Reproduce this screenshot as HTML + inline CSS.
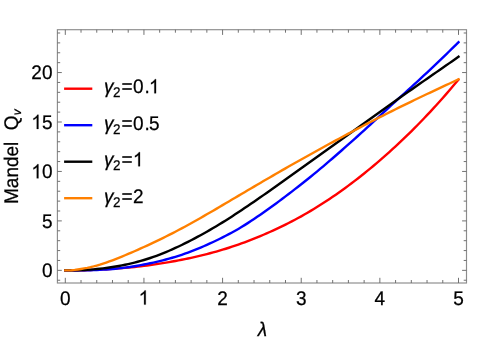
<!DOCTYPE html>
<html><head><meta charset="utf-8"><style>
html,body{margin:0;padding:0;background:#fff}
svg{display:block;will-change:transform}
text{text-rendering:geometricPrecision;font-family:"Liberation Sans",sans-serif;font-size:19.7px;fill:#000;stroke:#000;stroke-width:0.25px}
.one{fill:none;stroke:none}
</style></head><body>
<svg width="498" height="341" viewBox="0 0 498 341">
<g opacity="0.999">
<rect width="498" height="341" fill="#fff"/>
<g fill="none" stroke-width="2.4" stroke-linejoin="round" stroke-linecap="square"><path d="M65.30,270.35 L68.45,270.35 L71.59,270.35 L74.74,270.35 L77.88,270.35 L81.03,270.30 L84.17,270.22 L87.32,270.12 L90.46,270.01 L93.61,269.88 L96.76,269.73 L99.90,269.57 L103.05,269.40 L106.19,269.22 L109.34,269.03 L112.48,268.82 L115.63,268.60 L118.78,268.36 L121.92,268.11 L125.07,267.84 L128.21,267.56 L131.36,267.26 L134.50,266.94 L137.65,266.60 L140.79,266.24 L143.94,265.86 L147.09,265.46 L150.23,265.05 L153.38,264.61 L156.52,264.15 L159.67,263.67 L162.81,263.17 L165.96,262.65 L169.10,262.11 L172.25,261.55 L175.40,260.97 L178.54,260.38 L181.69,259.76 L184.83,259.13 L187.98,258.48 L191.12,257.80 L194.27,257.11 L197.42,256.39 L200.56,255.65 L203.71,254.89 L206.85,254.10 L210.00,253.28 L213.14,252.43 L216.29,251.56 L219.43,250.65 L222.58,249.72 L225.73,248.75 L228.87,247.75 L232.02,246.72 L235.16,245.65 L238.31,244.56 L241.45,243.43 L244.60,242.28 L247.74,241.09 L250.89,239.88 L254.04,238.64 L257.18,237.37 L260.33,236.07 L263.47,234.74 L266.62,233.38 L269.76,232.00 L272.91,230.58 L276.06,229.14 L279.20,227.66 L282.35,226.15 L285.49,224.60 L288.64,223.02 L291.78,221.41 L294.93,219.75 L298.07,218.06 L301.22,216.33 L304.37,214.56 L307.51,212.74 L310.66,210.89 L313.80,209.00 L316.95,207.07 L320.09,205.10 L323.24,203.09 L326.38,201.04 L329.53,198.96 L332.68,196.83 L335.82,194.67 L338.97,192.46 L342.11,190.22 L345.26,187.94 L348.40,185.62 L351.55,183.27 L354.70,180.87 L357.84,178.44 L360.99,175.97 L364.13,173.47 L367.28,170.92 L370.42,168.34 L373.57,165.72 L376.71,163.07 L379.86,160.37 L383.01,157.64 L386.15,154.87 L389.30,152.07 L392.44,149.22 L395.59,146.34 L398.73,143.41 L401.88,140.45 L405.02,137.44 L408.17,134.39 L411.32,131.30 L414.46,128.16 L417.61,124.99 L420.75,121.77 L423.90,118.50 L427.04,115.19 L430.19,111.83 L433.34,108.43 L436.48,104.99 L439.63,101.50 L442.77,97.96 L445.92,94.37 L449.06,90.74 L452.21,87.07 L455.35,83.34 L458.50,79.57" stroke="#ff0000"/><path d="M65.30,270.35 L68.45,270.35 L71.59,270.35 L74.74,270.35 L77.88,270.35 L81.03,270.35 L84.17,270.35 L87.32,270.30 L90.46,270.20 L93.61,270.09 L96.76,269.95 L99.90,269.80 L103.05,269.64 L106.19,269.45 L109.34,269.24 L112.48,268.99 L115.63,268.72 L118.78,268.40 L121.92,268.05 L125.07,267.66 L128.21,267.22 L131.36,266.75 L134.50,266.24 L137.65,265.70 L140.79,265.13 L143.94,264.54 L147.09,263.91 L150.23,263.26 L153.38,262.57 L156.52,261.86 L159.67,261.11 L162.81,260.33 L165.96,259.50 L169.10,258.64 L172.25,257.74 L175.40,256.80 L178.54,255.81 L181.69,254.77 L184.83,253.69 L187.98,252.56 L191.12,251.39 L194.27,250.17 L197.42,248.91 L200.56,247.60 L203.71,246.26 L206.85,244.87 L210.00,243.45 L213.14,241.99 L216.29,240.49 L219.43,238.96 L222.58,237.39 L225.73,235.79 L228.87,234.15 L232.02,232.47 L235.16,230.72 L238.31,228.92 L241.45,227.05 L244.60,225.11 L247.74,223.12 L250.89,221.07 L254.04,218.98 L257.18,216.85 L260.33,214.68 L263.47,212.48 L266.62,210.25 L269.76,208.00 L272.91,205.73 L276.06,203.43 L279.20,201.11 L282.35,198.76 L285.49,196.39 L288.64,194.00 L291.78,191.59 L294.93,189.16 L298.07,186.71 L301.22,184.23 L304.37,181.74 L307.51,179.23 L310.66,176.70 L313.80,174.14 L316.95,171.56 L320.09,168.94 L323.24,166.30 L326.38,163.63 L329.53,160.94 L332.68,158.23 L335.82,155.50 L338.97,152.75 L342.11,150.00 L345.26,147.22 L348.40,144.44 L351.55,141.64 L354.70,138.83 L357.84,136.00 L360.99,133.17 L364.13,130.32 L367.28,127.45 L370.42,124.57 L373.57,121.68 L376.71,118.78 L379.86,115.86 L383.01,112.93 L386.15,110.01 L389.30,107.10 L392.44,104.21 L395.59,101.33 L398.73,98.47 L401.88,95.62 L405.02,92.77 L408.17,89.91 L411.32,87.06 L414.46,84.19 L417.61,81.31 L420.75,78.41 L423.90,75.49 L427.04,72.55 L430.19,69.59 L433.34,66.61 L436.48,63.62 L439.63,60.61 L442.77,57.59 L445.92,54.55 L449.06,51.50 L452.21,48.44 L455.35,45.37 L458.50,42.29" stroke="#0000ff"/><path d="M65.30,270.35 L68.45,270.35 L71.59,270.35 L74.74,270.34 L77.88,270.26 L81.03,270.15 L84.17,270.00 L87.32,269.82 L90.46,269.60 L93.61,269.35 L96.76,269.06 L99.90,268.73 L103.05,268.37 L106.19,267.97 L109.34,267.53 L112.48,267.05 L115.63,266.54 L118.78,265.99 L121.92,265.39 L125.07,264.76 L128.21,264.08 L131.36,263.35 L134.50,262.58 L137.65,261.77 L140.79,260.90 L143.94,259.98 L147.09,259.01 L150.23,257.99 L153.38,256.92 L156.52,255.79 L159.67,254.61 L162.81,253.37 L165.96,252.09 L169.10,250.75 L172.25,249.37 L175.40,247.94 L178.54,246.48 L181.69,244.97 L184.83,243.43 L187.98,241.86 L191.12,240.25 L194.27,238.60 L197.42,236.93 L200.56,235.22 L203.71,233.48 L206.85,231.70 L210.00,229.90 L213.14,228.06 L216.29,226.19 L219.43,224.29 L222.58,222.36 L225.73,220.40 L228.87,218.41 L232.02,216.39 L235.16,214.35 L238.31,212.28 L241.45,210.20 L244.60,208.09 L247.74,205.96 L250.89,203.82 L254.04,201.66 L257.18,199.49 L260.33,197.31 L263.47,195.12 L266.62,192.92 L269.76,190.71 L272.91,188.50 L276.06,186.27 L279.20,184.05 L282.35,181.81 L285.49,179.57 L288.64,177.33 L291.78,175.09 L294.93,172.84 L298.07,170.59 L301.22,168.33 L304.37,166.08 L307.51,163.82 L310.66,161.57 L313.80,159.31 L316.95,157.05 L320.09,154.79 L323.24,152.54 L326.38,150.28 L329.53,148.02 L332.68,145.76 L335.82,143.50 L338.97,141.24 L342.11,138.98 L345.26,136.72 L348.40,134.46 L351.55,132.20 L354.70,129.94 L357.84,127.68 L360.99,125.42 L364.13,123.17 L367.28,120.91 L370.42,118.66 L373.57,116.41 L376.71,114.17 L379.86,111.92 L383.01,109.68 L386.15,107.44 L389.30,105.21 L392.44,102.98 L395.59,100.75 L398.73,98.52 L401.88,96.30 L405.02,94.09 L408.17,91.87 L411.32,89.66 L414.46,87.46 L417.61,85.26 L420.75,83.07 L423.90,80.87 L427.04,78.69 L430.19,76.50 L433.34,74.32 L436.48,72.13 L439.63,69.94 L442.77,67.75 L445.92,65.56 L449.06,63.36 L452.21,61.16 L455.35,58.95 L458.50,56.73" stroke="#000000"/><path d="M65.30,270.35 L68.45,270.35 L71.59,270.27 L74.74,269.92 L77.88,269.48 L81.03,268.98 L84.17,268.44 L87.32,267.84 L90.46,267.16 L93.61,266.40 L96.76,265.56 L99.90,264.65 L103.05,263.65 L106.19,262.59 L109.34,261.46 L112.48,260.29 L115.63,259.07 L118.78,257.82 L121.92,256.55 L125.07,255.25 L128.21,253.93 L131.36,252.59 L134.50,251.23 L137.65,249.85 L140.79,248.45 L143.94,247.03 L147.09,245.59 L150.23,244.13 L153.38,242.65 L156.52,241.15 L159.67,239.63 L162.81,238.09 L165.96,236.52 L169.10,234.94 L172.25,233.33 L175.40,231.71 L178.54,230.06 L181.69,228.39 L184.83,226.70 L187.98,224.98 L191.12,223.25 L194.27,221.50 L197.42,219.73 L200.56,217.94 L203.71,216.14 L206.85,214.33 L210.00,212.51 L213.14,210.68 L216.29,208.84 L219.43,207.00 L222.58,205.15 L225.73,203.30 L228.87,201.44 L232.02,199.59 L235.16,197.73 L238.31,195.88 L241.45,194.02 L244.60,192.16 L247.74,190.31 L250.89,188.46 L254.04,186.61 L257.18,184.76 L260.33,182.92 L263.47,181.08 L266.62,179.25 L269.76,177.42 L272.91,175.60 L276.06,173.78 L279.20,171.97 L282.35,170.16 L285.49,168.36 L288.64,166.57 L291.78,164.78 L294.93,163.00 L298.07,161.22 L301.22,159.45 L304.37,157.69 L307.51,155.93 L310.66,154.18 L313.80,152.44 L316.95,150.70 L320.09,148.96 L323.24,147.24 L326.38,145.52 L329.53,143.80 L332.68,142.09 L335.82,140.38 L338.97,138.69 L342.11,136.99 L345.26,135.30 L348.40,133.62 L351.55,131.94 L354.70,130.27 L357.84,128.61 L360.99,126.95 L364.13,125.30 L367.28,123.66 L370.42,122.03 L373.57,120.40 L376.71,118.78 L379.86,117.17 L383.01,115.57 L386.15,113.98 L389.30,112.39 L392.44,110.82 L395.59,109.25 L398.73,107.70 L401.88,106.15 L405.02,104.61 L408.17,103.07 L411.32,101.55 L414.46,100.03 L417.61,98.52 L420.75,97.02 L423.90,95.53 L427.04,94.04 L430.19,92.56 L433.34,91.09 L436.48,89.61 L439.63,88.14 L442.77,86.67 L445.92,85.19 L449.06,83.72 L452.21,82.24 L455.35,80.76 L458.50,79.28" stroke="#ff8000"/></g>
<g stroke="#8c8c8c" stroke-width="1.15" fill="none">
<rect x="57.4" y="29.7" width="409.1" height="253.3"/></g>
<g stroke="#6a6a6a" stroke-width="0.95" fill="none">
<line x1="65.30" y1="283.0" x2="65.30" y2="277.8"/><line x1="65.30" y1="29.7" x2="65.30" y2="34.9"/><line x1="81.03" y1="283.0" x2="81.03" y2="280.0"/><line x1="81.03" y1="29.7" x2="81.03" y2="32.7"/><line x1="96.76" y1="283.0" x2="96.76" y2="280.0"/><line x1="96.76" y1="29.7" x2="96.76" y2="32.7"/><line x1="112.48" y1="283.0" x2="112.48" y2="280.0"/><line x1="112.48" y1="29.7" x2="112.48" y2="32.7"/><line x1="128.21" y1="283.0" x2="128.21" y2="280.0"/><line x1="128.21" y1="29.7" x2="128.21" y2="32.7"/><line x1="143.94" y1="283.0" x2="143.94" y2="277.8"/><line x1="143.94" y1="29.7" x2="143.94" y2="34.9"/><line x1="159.67" y1="283.0" x2="159.67" y2="280.0"/><line x1="159.67" y1="29.7" x2="159.67" y2="32.7"/><line x1="175.40" y1="283.0" x2="175.40" y2="280.0"/><line x1="175.40" y1="29.7" x2="175.40" y2="32.7"/><line x1="191.12" y1="283.0" x2="191.12" y2="280.0"/><line x1="191.12" y1="29.7" x2="191.12" y2="32.7"/><line x1="206.85" y1="283.0" x2="206.85" y2="280.0"/><line x1="206.85" y1="29.7" x2="206.85" y2="32.7"/><line x1="222.58" y1="283.0" x2="222.58" y2="277.8"/><line x1="222.58" y1="29.7" x2="222.58" y2="34.9"/><line x1="238.31" y1="283.0" x2="238.31" y2="280.0"/><line x1="238.31" y1="29.7" x2="238.31" y2="32.7"/><line x1="254.04" y1="283.0" x2="254.04" y2="280.0"/><line x1="254.04" y1="29.7" x2="254.04" y2="32.7"/><line x1="269.76" y1="283.0" x2="269.76" y2="280.0"/><line x1="269.76" y1="29.7" x2="269.76" y2="32.7"/><line x1="285.49" y1="283.0" x2="285.49" y2="280.0"/><line x1="285.49" y1="29.7" x2="285.49" y2="32.7"/><line x1="301.22" y1="283.0" x2="301.22" y2="277.8"/><line x1="301.22" y1="29.7" x2="301.22" y2="34.9"/><line x1="316.95" y1="283.0" x2="316.95" y2="280.0"/><line x1="316.95" y1="29.7" x2="316.95" y2="32.7"/><line x1="332.68" y1="283.0" x2="332.68" y2="280.0"/><line x1="332.68" y1="29.7" x2="332.68" y2="32.7"/><line x1="348.40" y1="283.0" x2="348.40" y2="280.0"/><line x1="348.40" y1="29.7" x2="348.40" y2="32.7"/><line x1="364.13" y1="283.0" x2="364.13" y2="280.0"/><line x1="364.13" y1="29.7" x2="364.13" y2="32.7"/><line x1="379.86" y1="283.0" x2="379.86" y2="277.8"/><line x1="379.86" y1="29.7" x2="379.86" y2="34.9"/><line x1="395.59" y1="283.0" x2="395.59" y2="280.0"/><line x1="395.59" y1="29.7" x2="395.59" y2="32.7"/><line x1="411.32" y1="283.0" x2="411.32" y2="280.0"/><line x1="411.32" y1="29.7" x2="411.32" y2="32.7"/><line x1="427.04" y1="283.0" x2="427.04" y2="280.0"/><line x1="427.04" y1="29.7" x2="427.04" y2="32.7"/><line x1="442.77" y1="283.0" x2="442.77" y2="280.0"/><line x1="442.77" y1="29.7" x2="442.77" y2="32.7"/><line x1="458.50" y1="283.0" x2="458.50" y2="277.8"/><line x1="458.50" y1="29.7" x2="458.50" y2="34.9"/><line x1="57.4" y1="280.24" x2="60.199999999999996" y2="280.24"/><line x1="466.5" y1="280.24" x2="463.7" y2="280.24"/><line x1="57.4" y1="270.35" x2="61.8" y2="270.35"/><line x1="466.5" y1="270.35" x2="462.1" y2="270.35"/><line x1="57.4" y1="260.46" x2="60.199999999999996" y2="260.46"/><line x1="466.5" y1="260.46" x2="463.7" y2="260.46"/><line x1="57.4" y1="250.57" x2="60.199999999999996" y2="250.57"/><line x1="466.5" y1="250.57" x2="463.7" y2="250.57"/><line x1="57.4" y1="240.68" x2="60.199999999999996" y2="240.68"/><line x1="466.5" y1="240.68" x2="463.7" y2="240.68"/><line x1="57.4" y1="230.79" x2="60.199999999999996" y2="230.79"/><line x1="466.5" y1="230.79" x2="463.7" y2="230.79"/><line x1="57.4" y1="220.90" x2="61.8" y2="220.90"/><line x1="466.5" y1="220.90" x2="462.1" y2="220.90"/><line x1="57.4" y1="211.01" x2="60.199999999999996" y2="211.01"/><line x1="466.5" y1="211.01" x2="463.7" y2="211.01"/><line x1="57.4" y1="201.12" x2="60.199999999999996" y2="201.12"/><line x1="466.5" y1="201.12" x2="463.7" y2="201.12"/><line x1="57.4" y1="191.23" x2="60.199999999999996" y2="191.23"/><line x1="466.5" y1="191.23" x2="463.7" y2="191.23"/><line x1="57.4" y1="181.34" x2="60.199999999999996" y2="181.34"/><line x1="466.5" y1="181.34" x2="463.7" y2="181.34"/><line x1="57.4" y1="171.45" x2="61.8" y2="171.45"/><line x1="466.5" y1="171.45" x2="462.1" y2="171.45"/><line x1="57.4" y1="161.56" x2="60.199999999999996" y2="161.56"/><line x1="466.5" y1="161.56" x2="463.7" y2="161.56"/><line x1="57.4" y1="151.67" x2="60.199999999999996" y2="151.67"/><line x1="466.5" y1="151.67" x2="463.7" y2="151.67"/><line x1="57.4" y1="141.78" x2="60.199999999999996" y2="141.78"/><line x1="466.5" y1="141.78" x2="463.7" y2="141.78"/><line x1="57.4" y1="131.89" x2="60.199999999999996" y2="131.89"/><line x1="466.5" y1="131.89" x2="463.7" y2="131.89"/><line x1="57.4" y1="122.00" x2="61.8" y2="122.00"/><line x1="466.5" y1="122.00" x2="462.1" y2="122.00"/><line x1="57.4" y1="112.11" x2="60.199999999999996" y2="112.11"/><line x1="466.5" y1="112.11" x2="463.7" y2="112.11"/><line x1="57.4" y1="102.22" x2="60.199999999999996" y2="102.22"/><line x1="466.5" y1="102.22" x2="463.7" y2="102.22"/><line x1="57.4" y1="92.33" x2="60.199999999999996" y2="92.33"/><line x1="466.5" y1="92.33" x2="463.7" y2="92.33"/><line x1="57.4" y1="82.44" x2="60.199999999999996" y2="82.44"/><line x1="466.5" y1="82.44" x2="463.7" y2="82.44"/><line x1="57.4" y1="72.55" x2="61.8" y2="72.55"/><line x1="466.5" y1="72.55" x2="462.1" y2="72.55"/><line x1="57.4" y1="62.66" x2="60.199999999999996" y2="62.66"/><line x1="466.5" y1="62.66" x2="463.7" y2="62.66"/><line x1="57.4" y1="52.77" x2="60.199999999999996" y2="52.77"/><line x1="466.5" y1="52.77" x2="463.7" y2="52.77"/><line x1="57.4" y1="42.88" x2="60.199999999999996" y2="42.88"/><line x1="466.5" y1="42.88" x2="463.7" y2="42.88"/><line x1="57.4" y1="32.99" x2="60.199999999999996" y2="32.99"/><line x1="466.5" y1="32.99" x2="463.7" y2="32.99"/>
</g>
<text transform="translate(65.30,304.60) scale(0.965,1)" text-anchor="middle" >0</text><text transform="translate(143.94,304.60) scale(0.965,1)" text-anchor="middle" ><tspan class="one">1</tspan></text><text transform="translate(222.58,304.60) scale(0.965,1)" text-anchor="middle" >2</text><text transform="translate(301.22,304.60) scale(0.965,1)" text-anchor="middle" >3</text><text transform="translate(379.86,304.60) scale(0.965,1)" text-anchor="middle" >4</text><text transform="translate(458.50,304.60) scale(0.965,1)" text-anchor="middle" >5</text><text transform="translate(52.50,277.25) scale(0.965,1)" text-anchor="end" >0</text><text transform="translate(52.50,227.80) scale(0.965,1)" text-anchor="end" >5</text><text transform="translate(52.50,178.35) scale(0.965,1)" text-anchor="end" ><tspan class="one">1</tspan>0</text><text transform="translate(52.50,128.90) scale(0.965,1)" text-anchor="end" ><tspan class="one">1</tspan>5</text><text transform="translate(52.50,79.45) scale(0.965,1)" text-anchor="end" >20</text><line x1="64.1" y1="88.70" x2="92.3" y2="88.70" stroke="#ff0000" stroke-width="2.4"/><text transform="translate(104.00,93.30) scale(0.965,1)" text-anchor="start" ><tspan font-style="italic">γ</tspan><tspan font-size="14.0" dy="3.8" dx="-0.4">2</tspan><tspan dy="-3.8" dx="0.9">=</tspan><tspan dx="0.3">0</tspan><tspan dx="1.0">.</tspan><tspan dx="-0.8"><tspan class="one">1</tspan></tspan></text><line x1="64.1" y1="125.20" x2="92.3" y2="125.20" stroke="#0000ff" stroke-width="2.4"/><text transform="translate(104.00,129.80) scale(0.965,1)" text-anchor="start" ><tspan font-style="italic">γ</tspan><tspan font-size="14.0" dy="3.8" dx="-0.4">2</tspan><tspan dy="-3.8" dx="0.9">=</tspan><tspan dx="0.3">0</tspan><tspan dx="1.0">.</tspan><tspan dx="-0.8">5</tspan></text><line x1="64.1" y1="161.70" x2="92.3" y2="161.70" stroke="#000000" stroke-width="2.4"/><text transform="translate(104.00,166.30) scale(0.965,1)" text-anchor="start" ><tspan font-style="italic">γ</tspan><tspan font-size="14.0" dy="3.8" dx="-0.4">2</tspan><tspan dy="-3.8" dx="0.9">=</tspan><tspan dx="0.3"><tspan class="one">1</tspan></tspan></text><line x1="64.1" y1="198.20" x2="92.3" y2="198.20" stroke="#ff8000" stroke-width="2.4"/><text transform="translate(104.00,202.80) scale(0.965,1)" text-anchor="start" ><tspan font-style="italic">γ</tspan><tspan font-size="14.0" dy="3.8" dx="-0.4">2</tspan><tspan dy="-3.8" dx="0.9">=</tspan><tspan dx="0.3">2</tspan></text>
<g fill="#000" stroke="#000" stroke-width="0.25"><path vector-effect="non-scaling-stroke" transform="translate(138.66,304.60) scale(0.009282,-0.009619)" d="M763 0H583V1147Q518 1085 412.5 1023Q307 961 223 930V1104Q374 1175 487 1276Q600 1377 647 1472H763Z"/><path vector-effect="non-scaling-stroke" transform="translate(31.36,178.35) scale(0.009282,-0.009619)" d="M763 0H583V1147Q518 1085 412.5 1023Q307 961 223 930V1104Q374 1175 487 1276Q600 1377 647 1472H763Z"/><path vector-effect="non-scaling-stroke" transform="translate(31.36,128.90) scale(0.009282,-0.009619)" d="M763 0H583V1147Q518 1085 412.5 1023Q307 961 223 930V1104Q374 1175 487 1276Q600 1377 647 1472H763Z"/><path vector-effect="non-scaling-stroke" transform="translate(148.95,93.30) scale(0.009282,-0.009619)" d="M763 0H583V1147Q518 1085 412.5 1023Q307 961 223 930V1104Q374 1175 487 1276Q600 1377 647 1472H763Z"/><path vector-effect="non-scaling-stroke" transform="translate(132.89,166.30) scale(0.009282,-0.009619)" d="M763 0H583V1147Q518 1085 412.5 1023Q307 961 223 930V1104Q374 1175 487 1276Q600 1377 647 1472H763Z"/></g>
<text transform="translate(262.30,335.50) scale(0.965,1)" text-anchor="middle" font-style="italic">λ</text>
<g transform="translate(17.9,202.6) rotate(-90)"><text transform="translate(-1.40,0.00) scale(0.965,1)" text-anchor="start" >Mandel</text><text transform="translate(72.40,0.00) scale(0.965,1)" text-anchor="start" >Q<tspan font-size="12.2" font-style="italic" dy="2.8" dx="0.1">v</tspan></text></g>
</g>
</svg>
</body></html>
